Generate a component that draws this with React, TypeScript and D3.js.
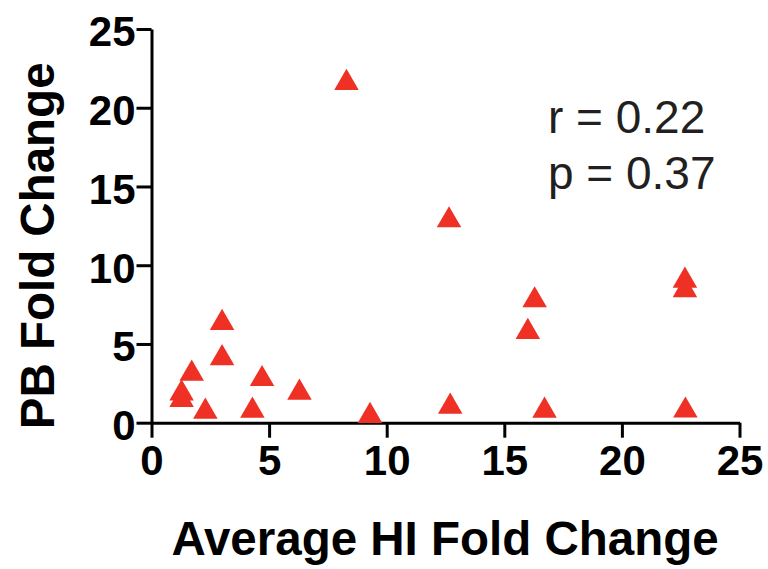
import React, { useEffect, useRef } from 'react';
import * as d3 from 'd3';

// values
const hiFold = [1.28, 1.28, 1.71, 2.29, 3.0, 3.0, 4.29, 4.7, 6.29, 8.29, 9.29, 12.65, 12.7, 16.0, 16.29, 16.71, 22.68, 22.68, 22.7];
const pbFold = [1.98, 1.58, 3.24, 0.83, 6.47, 4.23, 0.89, 2.9, 2.04, 21.7, 0.56, 12.98, 1.14, 5.89, 7.9, 0.89, 9.15, 8.55, 0.9];
const xTicks = [0, 5, 10, 15, 20, 25];
const yTicks = [0, 5, 10, 15, 20, 25];
const statLines = ['r = 0.22', 'p = 0.37'];

const W = 768;
const H = 569;
const FONT = 'Arial, "Liberation Sans", Helvetica, sans-serif';

const App = () => {
  const svgRef = useRef<SVGSVGElement>(null);

  useEffect(() => {
    const svg = d3.select(svgRef.current);
    svg.selectAll('*').remove();

    const x = d3.scaleLinear().domain([0, 25]).range([151.5, 739.5]);
    const y = d3.scaleLinear().domain([0, 25]).range([422.7, 29]);

    // y axis
    const gy = svg.append('g')
      .attr('transform', `translate(${x(0)},0)`)
      .call(d3.axisLeft(y).tickValues(yTicks).tickSize(15).tickSizeOuter(0).tickPadding(1));
    gy.select('.domain').attr('stroke', '#000').attr('stroke-width', 3);
    gy.selectAll('.tick line').attr('stroke', '#000').attr('stroke-width', 3);
    gy.selectAll('.tick text')
      .attr('fill', '#000')
      .attr('dy', '0.4em')
      .style('font-family', FONT)
      .style('font-weight', 'bold')
      .style('font-size', '42px');

    // x axis
    const gx = svg.append('g')
      .attr('transform', `translate(0,${y(0)})`)
      .call(d3.axisBottom(x).tickValues(xTicks).tickSize(15).tickSizeOuter(0).tickPadding(7));
    gx.select('.domain').attr('stroke', '#000').attr('stroke-width', 3);
    gx.selectAll('.tick line').attr('stroke', '#000').attr('stroke-width', 3);
    gx.selectAll('.tick text')
      .attr('fill', '#000')
      .style('font-family', FONT)
      .style('font-weight', 'bold')
      .style('font-size', '42px');

    // triangles
    const tri = d3.symbol().type(d3.symbolTriangle).size(260);
    svg.append('g')
      .selectAll('path')
      .data(hiFold.map((v, i) => [v, pbFold[i]]))
      .enter()
      .append('path')
      .attr('d', tri)
      .attr('transform', d => `translate(${x(d[0])},${y(d[1]) + 2})`)
      .attr('fill', '#ee3124');

    // axis titles
    svg.append('text')
      .attr('x', 445)
      .attr('y', 555)
      .attr('text-anchor', 'middle')
      .style('font-family', FONT)
      .style('font-weight', 'bold')
      .style('font-size', '47.5px')
      .text('Average HI Fold Change');

    svg.append('text')
      .attr('transform', `translate(54,${(y(0) + y(25)) / 2 + 20}) rotate(-90)`)
      .attr('text-anchor', 'middle')
      .style('font-family', FONT)
      .style('font-weight', 'bold')
      .style('font-size', '47.5px')
      .text('PB Fold Change');

    // stats
    svg.append('g')
      .selectAll('text')
      .data(statLines)
      .enter()
      .append('text')
      .attr('x', 548)
      .attr('y', (d, i) => 132.7 + i * 56.6)
      .attr('fill', '#231f20')
      .style('font-family', FONT)
      .style('font-size', '46px')
      .text(d => d);
  }, []);

  return (
    <div style={{ position: 'absolute', left: 0, top: 0, width: W, height: H, background: '#fff' }}>
      <svg ref={svgRef} width={W} height={H} style={{ display: 'block' }}></svg>
    </div>
  );
};

export default App;
